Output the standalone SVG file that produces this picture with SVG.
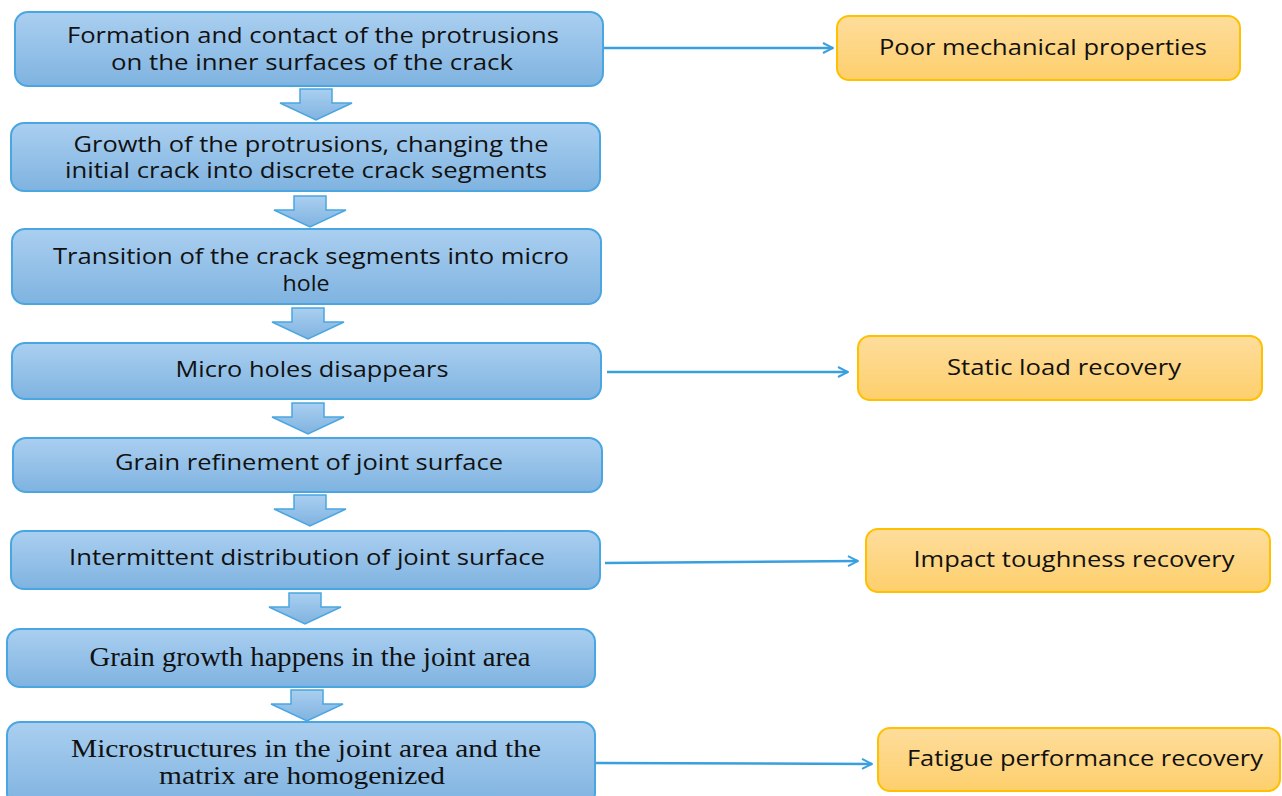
<svg xmlns="http://www.w3.org/2000/svg" width="1282" height="796" viewBox="0 0 1282 796">
<defs>
<linearGradient id="gb" x1="0" y1="0" x2="0" y2="1"><stop offset="0" stop-color="#aacff0"/><stop offset="1" stop-color="#7fb3e0"/></linearGradient>
<linearGradient id="go" x1="0" y1="0" x2="0" y2="1"><stop offset="0" stop-color="#fedd9c"/><stop offset="1" stop-color="#fdcf6c"/></linearGradient>
<marker id="ah" viewBox="0 0 12 12" refX="11" refY="6" markerWidth="12" markerHeight="12" markerUnits="userSpaceOnUse" orient="auto"><path d="M1,1 L11,6 L1,11" fill="none" stroke="#3a9fde" stroke-width="2"/></marker>
<path id="down" d="M-16,0 H16 V14 H36 L0,31 L-36,14 H-16 Z"/>
</defs>
<style>
.b{fill:url(#gb);stroke:#4aa6e1;stroke-width:2}
.o{fill:url(#go);stroke:#ffc000;stroke-width:2}
.t{font-family:"Open Sans","Liberation Sans",sans-serif;font-size:21px;fill:#111;text-anchor:middle}
.s{font-family:"Liberation Serif",serif;font-size:27px;fill:#111;text-anchor:middle}
.s2{font-size:25px}
.c{stroke:#3a9fde;stroke-width:2.5;fill:none;marker-end:url(#ah)}
.d{fill:url(#gb);stroke:#4aa6e1;stroke-width:1.5}
</style>
<rect width="1282" height="796" fill="#fff"/>
<g id="connectors">
<line class="c" x1="604" y1="48" x2="833" y2="48"/>
<line class="c" x1="607" y1="372" x2="848" y2="372"/>
<line class="c" x1="605" y1="563" x2="858" y2="561"/>
<line class="c" x1="595" y1="763" x2="872" y2="764"/>
<use href="#down" class="d" x="316" y="89"/>
<use href="#down" class="d" x="310" y="196"/>
<use href="#down" class="d" x="308" y="308"/>
<use href="#down" class="d" x="308" y="403"/>
<use href="#down" class="d" x="310" y="495"/>
<use href="#down" class="d" x="305" y="593"/>
<use href="#down" class="d" x="307" y="690"/>
</g>
<g id="n1"><rect class="b" x="15" y="12" width="588" height="74" rx="13"/><text class="t" x="313" y="43" textLength="492" lengthAdjust="spacingAndGlyphs">Formation and contact of the protrusions</text><text class="t" x="312" y="70" textLength="402" lengthAdjust="spacingAndGlyphs">on the inner surfaces of the crack</text></g>
<g id="n2"><rect class="b" x="11" y="123" width="589" height="68" rx="13"/><text class="t" x="311" y="152" textLength="475" lengthAdjust="spacingAndGlyphs">Growth of the protrusions, changing the</text><text class="t" x="306" y="178" textLength="482" lengthAdjust="spacingAndGlyphs">initial crack into discrete crack segments</text></g>
<g id="n3"><rect class="b" x="12" y="229" width="589" height="75" rx="13"/><text class="t" x="311" y="264" textLength="516" lengthAdjust="spacingAndGlyphs">Transition of the crack segments into micro</text><text class="t" x="306" y="291" textLength="47" lengthAdjust="spacingAndGlyphs">hole</text></g>
<g id="n4"><rect class="b" x="12" y="343" width="589" height="56" rx="13"/><text class="t" x="312" y="377" textLength="273" lengthAdjust="spacingAndGlyphs">Micro holes disappears</text></g>
<g id="n5"><rect class="b" x="13" y="438" width="589" height="54" rx="13"/><text class="t" x="309" y="470" textLength="388" lengthAdjust="spacingAndGlyphs">Grain refinement of joint surface</text></g>
<g id="n6"><rect class="b" x="11" y="531" width="589" height="58" rx="13"/><text class="t" x="307" y="565" textLength="476" lengthAdjust="spacingAndGlyphs">Intermittent distribution of joint surface</text></g>
<g id="n7"><rect class="b" x="7" y="629" width="588" height="58" rx="13"/><text class="s" x="310" y="666" textLength="441" lengthAdjust="spacingAndGlyphs">Grain growth happens in the joint area</text></g>
<g id="n8"><rect class="b" x="7" y="722" width="588" height="84" rx="13"/><text class="s s2" x="306" y="757" textLength="470" lengthAdjust="spacingAndGlyphs">Microstructures in the joint area and the</text><text class="s s2" x="302" y="784" textLength="286" lengthAdjust="spacingAndGlyphs">matrix are homogenized</text></g>
<g id="r1"><rect class="o" x="837" y="16" width="403" height="64" rx="12"/><text class="t" x="1043" y="55" textLength="328" lengthAdjust="spacingAndGlyphs">Poor mechanical properties</text></g>
<g id="r2"><rect class="o" x="858" y="336" width="404" height="64" rx="12"/><text class="t" x="1064" y="375" textLength="234" lengthAdjust="spacingAndGlyphs">Static load recovery</text></g>
<g id="r3"><rect class="o" x="866" y="529" width="404" height="63" rx="12"/><text class="t" x="1074" y="567" textLength="321" lengthAdjust="spacingAndGlyphs">Impact toughness recovery</text></g>
<g id="r4"><rect class="o" x="878" y="728" width="402" height="63" rx="12"/><text class="t" x="1085" y="766" textLength="356" lengthAdjust="spacingAndGlyphs">Fatigue performance recovery</text></g>
</svg>
